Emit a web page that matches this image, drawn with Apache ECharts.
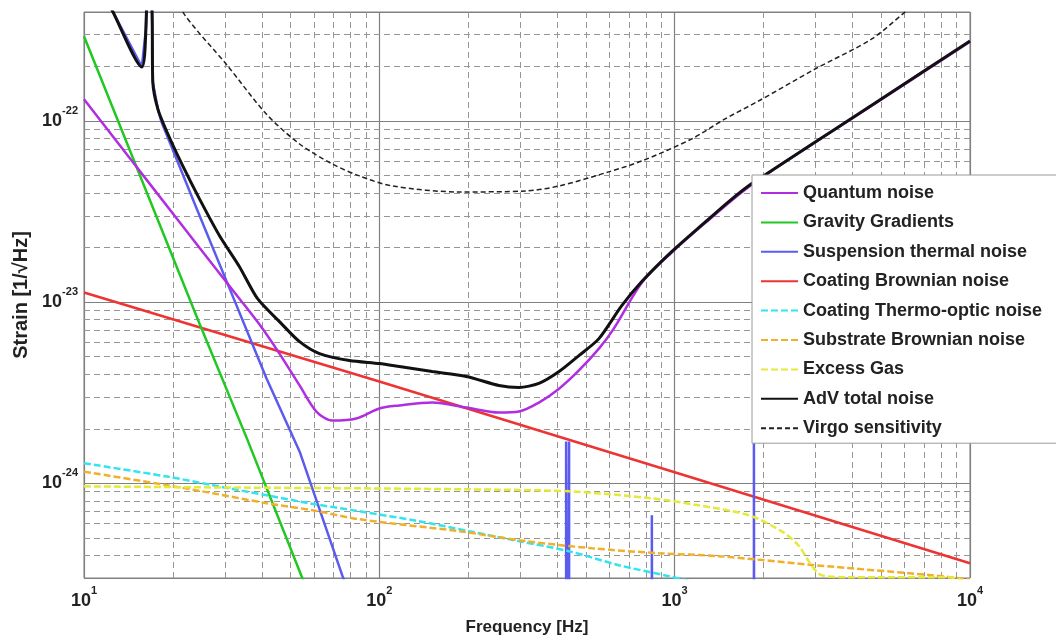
<!DOCTYPE html>
<html>
<head>
<meta charset="utf-8">
<script src="https://cdn.jsdelivr.net/npm/echarts@6/dist/echarts.min.js"></script>
<style>
html,body{margin:0;padding:0;background:#fff;}
#chart{width:1056px;height:641px;}
</style>
</head>
<body>
<div id="chart"></div>
<script>
// ---- data (frequency [Hz], strain [1/sqrt(Hz)]) ----
const seriesNames = [
  'Quantum noise', 'Gravity Gradients', 'Suspension thermal noise',
  'Coating Brownian noise', 'Coating Thermo-optic noise', 'Substrate Brownian noise',
  'Excess Gas', 'AdV total noise', 'Virgo sensitivity'
];

const quantumNoise = [
  [10,1.32e-22],[16.7,4.50e-23],[24.6,2.00e-23],[33.6,1.045e-23],[39.3,7.52e-24],
  [45.9,5.20e-24],[53.7,3.47e-24],[61.2,2.49e-24],[69.4,2.22e-24],[83.5,2.28e-24],
  [100,2.59e-24],[116.9,2.69e-24],[151,2.79e-24],[197,2.62e-24],[254,2.46e-24],
  [297,2.49e-24],[347,2.79e-24],[406,3.33e-24],[474,4.20e-24],[554,5.54e-24],
  [622,7.15e-24],[774,1.28e-23],[977,1.88e-23],[1273,2.75e-23],[1820,4.44e-23],
  [4634,1.21e-22],[10000,2.74e-22]
];

const gravityGradients = [
  [10,2.94e-22],[24.6,7.62e-24],[35.6,1.77e-24],[54.5,3.08e-25],[62.7,1.8e-25]
];

const suspensionThermal = [
  [11.0,6.05e-22],[12.5,4.04e-22],[15.7,1.99e-22],[16.2,3.21e-22],[16.5,1e-21],
  [17.0,3.99e-22],[17.1,1.64e-22],[17.8,1.16e-22],[18.3,9.87e-23],[24.1,3.27e-23],
  [31.8,1.09e-23],[41.5,3.79e-24],[53.7,1.50e-24],[75.0,3.08e-25],[85.5,1.8e-25],
  [300,1e-27],
  [429,1e-27],[429,1.70e-24],[434,1.70e-24],[434,1e-27],[439,1e-27],[439,1.70e-24],[439.5,1e-27],
  [837,1e-27],[837,6.67e-25],[844,6.67e-25],[844,1e-27],
  [1855,1e-27],[1855,1.73e-24],[1863,1.73e-24],[1863,1e-27],
  [10000,1e-27]
];

const coatingBrownian = [
  [10,1.13e-23],[100,3.65e-24],[1000,1.15e-24],[10000,3.62e-25]
];

const coatingThermoOptic = [
  [10,1.29e-24],[19.1,1.09e-24],[27.3,9.76e-25],[41.5,8.59e-25],[58.0,7.76e-25],
  [85.5,7.01e-25],[136,6.18e-25],[201,5.44e-25],[297,4.79e-25],[438,4.22e-25],
  [647,3.53e-25],[955,3.07e-25],[1409,2.64e-25]
];

const substrateBrownian = [
  [10,1.16e-24],[19.1,9.76e-25],[27.3,8.81e-25],[41.5,7.76e-25],[59.4,7.10e-25],
  [85.5,6.33e-25],[186,5.44e-25],[314,4.79e-25],[525,4.38e-25],[883,4.11e-25],
  [1409,3.96e-25],[2993,3.53e-25],[7380,3.11e-25],[10000,2.94e-25]
];

const excessGas = [
  [10,9.62e-25],[24.6,9.50e-25],[85.5,9.38e-25],[201,9.26e-25],[438,9.03e-25],
  [836,8.26e-25],[1205,7.56e-25],[1778,6.67e-25],[2298,5.44e-25],[2622,4.55e-25],
  [2904,3.53e-25],[3140,3.11e-25],[3873,3.03e-25],[8500,3.03e-25],[10000,2.8e-25]
];

const advTotalNoise = [
  [11.0,6.05e-22],[12.5,4.04e-22],[15.7,1.99e-22],[16.2,3.21e-22],[16.5,1e-21],
  [17.0,3.99e-22],[17.1,1.64e-22],[17.8,1.16e-22],[19.1,8.7e-23],[21.6,5.65e-23],
  [24.6,3.72e-23],[28.8,2.32e-23],[33.6,1.57e-23],[38.7,1.045e-23],[45.9,7.81e-24],
  [53.7,6.05e-24],[62.7,5.20e-24],[79.2,4.76e-24],[100,4.58e-24],[116.9,4.41e-24],
  [151,4.14e-24],[197,3.89e-24],[254,3.47e-24],[297,3.38e-24],[347,3.56e-24],
  [406,4.14e-24],[474,5.07e-24],[554,6.29e-24],[662,9.57e-24],[774,1.30e-23],
  [977,1.90e-23],[1273,2.78e-23],[1521,3.58e-23],[1820,4.50e-23],[4634,1.22e-22],
  [10000,2.77e-22]
];

const virgoSensitivity = [
  [20.3,5.33e-22],[21.6,3.99e-22],[30.7,2.01e-22],[41.5,1.09e-22],[53.7,7.47e-23],
  [69.4,5.79e-23],[85.5,4.98e-23],[110.6,4.38e-23],[186,4.06e-23],[314,4.11e-23],
  [406,4.38e-23],[598,5.24e-23],[774,6.02e-23],[1140,7.96e-23],[1485,1.03e-22],
  [1923,1.29e-22],[2993,1.94e-22],[4634,2.83e-22],[6026,3.99e-22],[7210,5.0e-22]
];

// axis ranges and minor grid values
const xRange = [10, 10000];
const yRange = [3e-25, 4e-22];
const xMinorGrid = [20,30,40,50,60,70,80,90,200,300,400,500,600,700,800,900,
                    2000,3000,4000,5000,6000,7000,8000,9000];
const yMinorGrid = [4e-25,5e-25,6e-25,7e-25,8e-25,9e-25,
                    2e-24,3e-24,4e-24,5e-24,6e-24,7e-24,8e-24,9e-24,
                    2e-23,3e-23,4e-23,5e-23,6e-23,7e-23,8e-23,9e-23,
                    2e-22,3e-22];

// ECharts rounds tiny numbers to 20 decimals, so strain is handed to the
// library in units of 1e-24 and the tick labels add the exponent back.
const Y_UNIT_EXP = -24;
const toUnit = v => v / Math.pow(10, Y_UNIT_EXP);
const conv = arr => arr.map(p => [p[0], toUnit(p[1])]);

// ---- chart ----
const FONT = '"Liberation Sans", Arial, Helvetica, sans-serif';
const TXT = '#222';

function powLabel(offset) {
  return function (v) {
    const l = Math.log10(v);
    const e = Math.round(l);
    if (Math.abs(l - e) > 1e-3) return '';
    return '{b|10}{e|' + (e + offset) + '}';
  };
}
const labelRich = {
  b: {fontFamily: FONT, fontWeight: 'bold', fontSize: 18, color: TXT, lineHeight: 32},
  e: {fontFamily: FONT, fontWeight: 'bold', fontSize: 11, color: TXT, lineHeight: 12, verticalAlign: 'top'}
};

const minorLines = xMinorGrid.map(v => ({xAxis: v}))
  .concat(yMinorGrid.map(v => ({yAxis: toUnit(v)})));

function lineSeries(name, data, color, width, dashed, extra) {
  return Object.assign({
    name: name, type: 'line', data: conv(data), symbol: 'none', showSymbol: false,
    clip: true, silent: true,
    lineStyle: {color: color, width: width, type: dashed || 'solid'},
    itemStyle: {color: color},
    emphasis: {disabled: true}
  }, extra || {});
}

const chart = echarts.init(document.getElementById('chart'), null, {renderer: 'canvas'});
chart.setOption({
  animation: false,
  backgroundColor: '#fff',
  grid: {left: 84, right: 86, top: 12, bottom: 63, show: true,
         borderColor: '#808080', borderWidth: 1, backgroundColor: '#fff'},
  xAxis: {
    type: 'log', logBase: 10, min: xRange[0], max: xRange[1],
    name: 'Frequency [Hz]', nameLocation: 'middle', nameGap: 41,
    nameTextStyle: {fontFamily: FONT, fontWeight: 'bold', fontSize: 17, color: TXT},
    axisLine: {show: false}, axisTick: {show: false},
    splitLine: {show: true, lineStyle: {color: '#808080', width: 1.2}},
    axisLabel: {margin: 7, formatter: powLabel(0), rich: labelRich}
  },
  yAxis: {
    type: 'log', logBase: 10, min: toUnit(yRange[0]), max: toUnit(yRange[1]),
    name: 'Strain [1/\u221AHz]', nameLocation: 'middle', nameGap: 50, nameRotate: 90,
    nameTextStyle: {fontFamily: FONT, fontWeight: 'bold', fontSize: 20, color: TXT},
    axisLine: {show: false}, axisTick: {show: false},
    splitLine: {show: true, lineStyle: {color: '#808080', width: 1.2}},
    axisLabel: {margin: 6, formatter: powLabel(Y_UNIT_EXP), rich: labelRich}
  },
  legend: {
    data: seriesNames, orient: 'vertical', left: 752, top: 175,
    padding: [8, 15, 5, 8], itemGap: 9.4, itemWidth: 37, itemHeight: 14,
    backgroundColor: '#fff', borderColor: '#9a9a9a', borderWidth: 1,
    selectedMode: false,
    itemStyle: {opacity: 0, borderWidth: 0},
    textStyle: {fontFamily: FONT, fontWeight: 'bold', fontSize: 18, color: TXT, lineHeight: 20}
  },
  series: [
    lineSeries(seriesNames[3], coatingBrownian, '#ee3333', 2.5, 'solid', {
      markLine: {silent: true, z: 1, symbol: ['none', 'none'], label: {show: false},
        lineStyle: {color: '#959595', width: 1, type: [6, 4]}, emphasis: {disabled: true},
        data: minorLines}
    }),
    lineSeries(seriesNames[1], gravityGradients, '#22c822', 2.5),
    lineSeries(seriesNames[2], suspensionThermal, '#5b5bf0', 2.5),
    lineSeries(seriesNames[4], coatingThermoOptic, '#33e4ee', 2.5, [7, 3], {smooth: 0.3}),
    lineSeries(seriesNames[5], substrateBrownian, '#f0b02a', 2.5, [7, 3], {smooth: 0.3}),
    lineSeries(seriesNames[6], excessGas, '#e4ea3a', 2.5, [7, 3], {smooth: 0.3}),
    lineSeries(seriesNames[0], quantumNoise, '#b02ee0', 2.5, 'solid', {smooth: 0.3}),
    lineSeries(seriesNames[7], advTotalNoise, '#111111', 3, 'solid', {smooth: 0.25}),
    lineSeries(seriesNames[8], virgoSensitivity, '#222222', 1.5, [5, 3], {smooth: 0.3})
  ]
});
</script>
</body>
</html>
